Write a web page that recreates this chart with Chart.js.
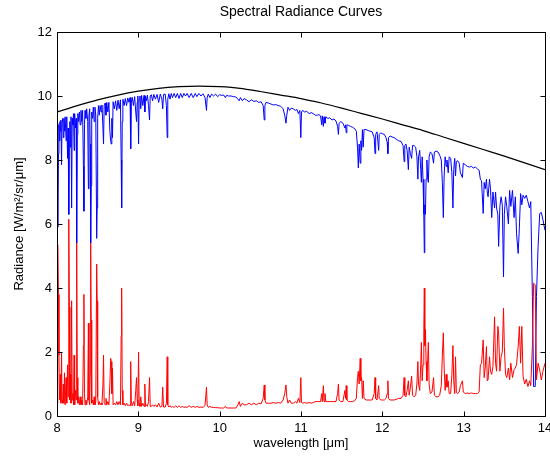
<!DOCTYPE html>
<html>
<head>
<meta charset="utf-8">
<title>Spectral Radiance Curves</title>
<script src="https://cdn.jsdelivr.net/npm/chart.js@4/dist/chart.umd.min.js"></script>
<style>
    html, body { margin: 0; padding: 0; background: #ffffff; }
    #wrap { width: 550px; height: 459px; }
</style>
</head>
<body>
<div id="wrap"><canvas id="myChart" width="550" height="459"></canvas></div>
<script>
// axis ticks
var xTicks = [8, 9, 10, 11, 12, 13, 14];
var yTicks = [0, 2, 4, 6, 8, 10, 12];

// black curve (blackbody)
var blackWl = [8.00, 8.25, 8.50, 8.75, 9.00, 9.25, 9.50, 9.75, 10.00, 10.25, 10.50, 10.75, 11.00,
    11.25, 11.50, 11.75, 12.00, 12.25, 12.50, 12.75, 13.00, 13.25, 13.50, 13.75, 14.00];
var blackVals = [9.50, 9.70, 9.88, 10.03, 10.15, 10.24, 10.29, 10.31, 10.29, 10.24, 10.14, 10.03, 9.92,
    9.78, 9.62, 9.45, 9.28, 9.10, 8.92, 8.72, 8.52, 8.32, 8.12, 7.91, 7.70];

// blue (upwelling) and red (atmosphere) share the wavelength grid, one block per micron
var wl8 = [
    8.000, 8.006, 8.012, 8.018, 8.024, 8.030, 8.036, 8.042, 8.048, 8.056,
    8.062, 8.070, 8.078, 8.085, 8.092, 8.100, 8.112, 8.120, 8.130, 8.137,
    8.145, 8.152, 8.158, 8.166, 8.172, 8.180, 8.187, 8.195, 8.203, 8.210,
    8.217, 8.228, 8.236, 8.242, 8.249, 8.256, 8.265, 8.275, 8.285, 8.295,
    8.305, 8.315, 8.325, 8.331, 8.338, 8.345, 8.355, 8.365, 8.378, 8.386,
    8.393, 8.402, 8.408, 8.414, 8.420, 8.427, 8.437, 8.447, 8.457, 8.467,
    8.477, 8.488, 8.494, 8.500, 8.510, 8.520, 8.530, 8.542, 8.552, 8.565,
    8.572, 8.580, 8.592, 8.602, 8.612, 8.625, 8.638, 8.650, 8.660, 8.667,
    8.674, 8.682, 8.690, 8.705, 8.720, 8.735, 8.750, 8.765, 8.780, 8.789,
    8.795, 8.802, 8.810, 8.825, 8.840, 8.855, 8.870, 8.885, 8.898, 8.906,
    8.914, 8.925, 8.940, 8.955, 8.968, 8.978, 8.986, 8.994];
var blue8 = [
    9.15, 8.90, 5.90, 8.20, 9.10, 8.60, 9.20, 8.90, 9.25, 7.85,
    9.20, 9.30, 8.70, 9.30, 8.90, 9.35, 8.60, 9.35, 8.05, 9.00,
    6.30, 8.60, 9.20, 8.40, 9.35, 6.50, 9.30, 9.10, 9.45, 8.30,
    9.45, 9.00, 9.30, 5.40, 8.80, 9.45, 9.20, 9.50, 9.10, 9.55,
    9.20, 9.55, 7.80, 6.40, 9.10, 9.55, 9.30, 9.60, 9.20, 7.10,
    9.40, 9.60, 8.50, 5.40, 7.20, 9.50, 9.30, 9.65, 9.20, 9.65,
    9.40, 5.55, 6.50, 9.30, 9.70, 9.40, 9.70, 9.50, 9.72, 9.00,
    8.50, 9.70, 9.78, 9.40, 9.80, 9.50, 9.80, 8.90, 8.60, 8.50,
    9.30, 8.70, 9.82, 9.60, 9.85, 9.55, 9.87, 9.60, 9.88, 8.00,
    6.50, 9.20, 9.90, 9.70, 9.92, 9.70, 9.94, 9.80, 9.95, 8.35,
    9.80, 9.96, 9.70, 9.98, 9.50, 9.20, 9.80, 10.00];
var red8 = [
    0.40, 1.00, 5.35, 3.80, 1.90, 0.80, 0.50, 1.30, 0.40, 2.00,
    0.50, 0.40, 1.00, 0.40, 1.35, 0.35, 1.20, 0.40, 1.60, 0.60,
    6.15, 3.40, 0.50, 1.30, 0.40, 3.60, 0.50, 0.70, 0.35, 1.90,
    0.35, 0.80, 0.50, 5.40, 1.20, 0.40, 0.60, 0.35, 0.60, 0.35,
    0.50, 0.35, 2.20, 3.80, 0.70, 0.35, 0.50, 0.35, 0.60, 2.90,
    0.50, 0.35, 1.30, 5.40, 3.00, 0.40, 0.50, 0.35, 0.60, 0.35,
    0.45, 4.75, 3.60, 0.60, 0.35, 0.45, 0.35, 0.40, 0.35, 1.00,
    1.90, 0.40, 0.35, 0.55, 0.35, 0.45, 0.35, 1.00, 1.80, 1.70,
    0.70, 1.50, 0.35, 0.40, 0.35, 0.45, 0.35, 0.45, 0.35, 2.50,
    4.00, 0.80, 0.35, 0.40, 0.32, 0.40, 0.32, 0.35, 0.32, 1.70,
    0.40, 0.32, 0.45, 0.32, 0.80, 1.20, 0.50, 0.32];

var wl9 = [
    9.003, 9.010, 9.020, 9.030, 9.040, 9.055, 9.070, 9.080, 9.088, 9.100,
    9.112, 9.125, 9.138, 9.146, 9.160, 9.175, 9.190, 9.210, 9.230, 9.250,
    9.270, 9.290, 9.300, 9.310, 9.330, 9.345, 9.355, 9.362, 9.375, 9.390,
    9.405, 9.420, 9.440, 9.460, 9.480, 9.500, 9.520, 9.540, 9.560, 9.580,
    9.600, 9.625, 9.650, 9.675, 9.700, 9.720, 9.745, 9.770, 9.795, 9.820,
    9.838, 9.846, 9.860, 9.880, 9.900, 9.925, 9.950, 9.975];
var blue9 = [
    8.50, 9.90, 10.00, 9.60, 10.02, 9.70, 10.02, 9.50, 10.00, 9.85,
    10.03, 9.70, 9.25, 10.00, 10.04, 9.85, 10.05, 9.90, 10.05, 9.80,
    10.06, 9.90, 9.60, 10.05, 10.06, 9.70, 8.70, 9.90, 10.07, 9.90,
    10.08, 9.95, 10.08, 9.95, 10.08, 9.92, 10.08, 9.95, 10.08, 10.00,
    10.08, 9.95, 10.08, 9.95, 10.08, 9.98, 10.08, 10.00, 10.07, 9.95,
    9.55, 9.95, 10.06, 9.95, 10.06, 10.00, 10.06, 9.98];
var red9 = [
    2.00, 0.40, 0.30, 0.60, 0.30, 0.40, 0.30, 1.00, 0.30, 0.35,
    0.30, 0.45, 1.20, 0.30, 0.30, 0.35, 0.30, 0.35, 0.28, 0.40,
    0.28, 0.30, 0.90, 0.28, 0.28, 0.40, 1.85, 0.35, 0.28, 0.32,
    0.27, 0.30, 0.27, 0.32, 0.27, 0.32, 0.27, 0.30, 0.27, 0.28,
    0.27, 0.32, 0.27, 0.30, 0.27, 0.30, 0.27, 0.28, 0.27, 0.33,
    0.90, 0.35, 0.27, 0.30, 0.27, 0.27, 0.26, 0.26];

var wl10 = [
    10.000, 10.025, 10.050, 10.070, 10.085, 10.110, 10.140, 10.170, 10.200, 10.225,
    10.240, 10.255, 10.280, 10.300, 10.330, 10.360, 10.390, 10.420, 10.450, 10.480,
    10.510, 10.535, 10.548, 10.556, 10.570, 10.600, 10.630, 10.660, 10.690, 10.720,
    10.750, 10.780, 10.800, 10.815, 10.825, 10.840, 10.860, 10.880, 10.905, 10.930,
    10.950, 10.968, 10.986];
var blue10 = [
    10.04, 10.02, 10.03, 9.95, 10.02, 10.00, 10.00, 9.98, 9.97, 9.90,
    9.85, 9.95, 9.85, 9.92, 9.88, 9.82, 9.88, 9.83, 9.85, 9.80,
    9.82, 9.70, 9.25, 9.70, 9.80, 9.78, 9.75, 9.72, 9.73, 9.70,
    9.68, 9.60, 9.40, 9.15, 9.40, 9.65, 9.55, 9.62, 9.60, 9.55,
    9.58, 9.45, 9.55];
var red10 = [
    0.25, 0.25, 0.25, 0.30, 0.25, 0.25, 0.25, 0.25, 0.25, 0.35,
    0.45, 0.30, 0.40, 0.35, 0.35, 0.40, 0.35, 0.40, 0.35, 0.40,
    0.38, 0.55, 0.97, 0.50, 0.40, 0.40, 0.40, 0.42, 0.40, 0.42,
    0.40, 0.50, 0.70, 0.97, 0.60, 0.40, 0.50, 0.40, 0.40, 0.45,
    0.40, 0.55, 0.42];

var wl11 = [
    10.998, 11.006, 11.020, 11.045, 11.070, 11.100, 11.125, 11.150, 11.175, 11.200,
    11.220, 11.240, 11.255, 11.262, 11.275, 11.283, 11.295, 11.305, 11.330, 11.355,
    11.380, 11.405, 11.430, 11.450, 11.460, 11.468, 11.490, 11.515, 11.540, 11.548,
    11.556, 11.564, 11.585, 11.610, 11.635, 11.660, 11.680, 11.695, 11.705, 11.715,
    11.728, 11.736, 11.745, 11.755, 11.765, 11.775, 11.800, 11.825, 11.850, 11.875,
    11.900, 11.910, 11.918, 11.935, 11.955, 11.962, 11.980];
var blue11 = [
    8.70, 9.50, 9.55, 9.50, 9.52, 9.45, 9.48, 9.45, 9.40, 9.40,
    9.42, 9.38, 9.10, 9.38, 9.05, 9.35, 9.15, 9.35, 9.30, 9.32,
    9.25, 9.28, 9.22, 9.05, 8.80, 9.15, 9.20, 9.15, 9.00, 9.10,
    8.85, 9.10, 9.08, 9.05, 9.02, 8.98, 8.90, 8.40, 7.75, 8.50,
    7.90, 8.60, 8.30, 8.95, 8.40, 8.95, 8.95, 8.92, 8.90, 8.88,
    8.70, 8.20, 8.80, 8.88, 8.30, 8.80, 8.85];
var red11 = [
    1.20, 0.42, 0.40, 0.42, 0.40, 0.42, 0.40, 0.42, 0.45, 0.45,
    0.45, 0.45, 0.70, 0.45, 0.95, 0.45, 0.70, 0.45, 0.45, 0.45,
    0.45, 0.45, 0.45, 0.70, 1.00, 0.50, 0.45, 0.45, 0.80, 0.55,
    0.95, 0.50, 0.45, 0.45, 0.45, 0.48, 0.55, 1.20, 1.40, 1.00,
    1.80, 1.10, 1.20, 0.55, 1.10, 0.55, 0.50, 0.50, 0.50, 0.50,
    0.70, 1.20, 0.55, 0.50, 0.95, 0.55, 0.50];

var wl12 = [
    12.000, 12.025, 12.045, 12.060, 12.068, 12.076, 12.095, 12.120, 12.145, 12.170,
    12.200, 12.230, 12.255, 12.268, 12.276, 12.290, 12.305, 12.320, 12.330, 12.345,
    12.360, 12.372, 12.390, 12.410, 12.425, 12.437, 12.445, 12.460, 12.472, 12.480,
    12.490, 12.500, 12.510, 12.516, 12.522, 12.530, 12.538, 12.548, 12.558, 12.566,
    12.575, 12.590, 12.610, 12.630, 12.640, 12.660, 12.685, 12.705, 12.725, 12.738,
    12.750, 12.760, 12.772, 12.785, 12.795, 12.810, 12.822, 12.840, 12.855, 12.868,
    12.878, 12.890, 12.900, 12.910, 12.925, 12.945, 12.960, 12.985];
var blue12 = [
    8.82, 8.80, 8.70, 8.55, 8.20, 8.70, 8.75, 8.72, 8.70, 8.65,
    8.60, 8.58, 8.45, 7.95, 8.45, 8.50, 8.30, 7.70, 8.40, 8.20,
    8.05, 8.45, 8.45, 8.40, 8.10, 7.40, 8.10, 8.30, 7.70, 7.30,
    8.10, 7.40, 6.30, 5.10, 6.60, 6.30, 7.40, 8.00, 7.40, 7.30,
    8.10, 8.25, 8.20, 7.90, 8.25, 8.28, 8.25, 8.15, 8.00, 7.30,
    6.20, 7.50, 8.10, 7.80, 8.00, 7.60, 8.10, 8.05, 7.60, 6.50,
    7.70, 8.05, 7.50, 7.95, 7.98, 7.90, 7.60, 7.45];
var red12 = [
    0.50, 0.50, 0.55, 0.70, 1.10, 0.55, 0.50, 0.50, 0.50, 0.52,
    0.55, 0.55, 0.65, 1.20, 0.65, 0.60, 0.80, 1.10, 0.65, 0.90,
    1.25, 0.65, 0.60, 0.65, 1.00, 1.70, 1.00, 0.80, 1.60, 2.30,
    1.10, 1.60, 2.70, 4.00, 2.20, 2.70, 1.70, 1.10, 1.80, 2.30,
    1.00, 0.70, 0.75, 1.20, 0.65, 0.60, 0.60, 0.65, 0.95, 1.90,
    2.60, 1.50, 0.80, 1.30, 0.90, 1.10, 0.70, 0.70, 1.30, 2.20,
    1.10, 0.70, 1.85, 0.75, 0.70, 0.75, 0.95, 1.10];

var wl13 = [
    12.995, 13.020, 13.045, 13.070, 13.095, 13.120, 13.145, 13.170, 13.190, 13.205,
    13.220, 13.240, 13.252, 13.265, 13.280, 13.290, 13.300, 13.318, 13.330, 13.345,
    13.360, 13.380, 13.392, 13.405, 13.420, 13.430, 13.445, 13.460, 13.475, 13.490,
    13.500, 13.515, 13.530, 13.550, 13.565, 13.580, 13.600, 13.620, 13.635, 13.650,
    13.670, 13.685, 13.700, 13.715, 13.730, 13.750, 13.770, 13.790, 13.810, 13.825,
    13.845, 13.860, 13.880, 13.895, 13.915, 13.935, 13.955, 13.975, 14.000];
var blue13 = [
    7.90, 7.85, 7.80, 7.78, 7.80, 7.75, 7.78, 7.72, 7.68, 7.40,
    7.35, 6.33, 7.30, 7.10, 7.40, 7.00, 6.85, 7.40, 7.10, 6.20,
    7.00, 6.50, 7.00, 6.50, 6.30, 5.30, 6.55, 6.85, 6.60, 4.35,
    6.30, 6.85, 6.55, 6.00, 7.05, 6.55, 7.05, 6.20, 6.85, 5.70,
    5.08, 5.90, 6.95, 6.60, 6.90, 6.80, 6.90, 6.70, 6.50, 6.70,
    3.73, 0.92, 0.92, 3.73, 5.30, 6.33, 6.36, 6.13, 5.80];
var red13 = [
    0.75, 0.70, 0.72, 0.70, 0.72, 0.70, 0.70, 0.70, 0.75, 1.60,
    1.65, 2.38, 1.20, 1.50, 2.17, 1.10, 1.13, 1.85, 1.40, 1.30,
    1.55, 3.10, 1.65, 1.40, 2.80, 2.60, 1.40, 1.85, 2.00, 3.37,
    2.17, 1.30, 1.20, 1.50, 1.13, 1.65, 1.20, 1.45, 1.50, 1.60,
    2.17, 2.80, 1.65, 2.80, 1.25, 1.00, 1.15, 0.92, 1.10, 0.95,
    2.20, 4.15, 4.10, 1.13, 1.65, 1.44, 1.13, 1.40, 1.65];

var wavelength = [].concat(wl8, wl9, wl10, wl11, wl12, wl13);
var upwelling = [].concat(blue8, blue9, blue10, blue11, blue12, blue13);
var emission = [].concat(red8, red9, red10, red11, red12, red13);

function toPoints(xs, ys) {
    var pts = [];
    for (var i = 0; i < xs.length; i++) {
        if (ys[i] === undefined) { console.log("missing value at " + xs[i]); continue; }
        pts.push({ x: xs[i], y: ys[i] });
    }
    return pts;
}

var fontName = "'Liberation Sans', Arial, Helvetica, sans-serif";

// matlab style box with inward ticks
var boxPlugin = {
    id: 'box',
    afterDraw: function (chart) {
        var ctx = chart.ctx;
        var a = chart.chartArea;
        var xs = chart.scales.x;
        var ys = chart.scales.y;
        var l = Math.round(a.left) + 0.5, r = Math.round(a.right) + 0.5;
        var t = Math.round(a.top) + 0.5, b = Math.round(a.bottom) + 0.5;
        ctx.save();
        ctx.strokeStyle = '#000000';
        ctx.lineWidth = 1;
        ctx.beginPath();
        ctx.moveTo(l, t); ctx.lineTo(r, t); ctx.lineTo(r, b); ctx.lineTo(l, b); ctx.closePath();
        xTicks.forEach(function (v) {
            var px = Math.round(xs.getPixelForValue(v)) + 0.5;
            ctx.moveTo(px, t); ctx.lineTo(px, t + 5);
            ctx.moveTo(px, b); ctx.lineTo(px, b - 5);
        });
        yTicks.forEach(function (v) {
            var py = Math.round(ys.getPixelForValue(v)) + 0.5;
            ctx.moveTo(l, py); ctx.lineTo(l + 5, py);
            ctx.moveTo(r, py); ctx.lineTo(r - 5, py);
        });
        ctx.stroke();
        ctx.restore();
    }
};

function setChart() {
    var ctx = document.getElementById('myChart');
    new Chart(ctx, {
        type: 'line',
        data: {
            datasets: [{
                label: 'blackbody',
                data: toPoints(blackWl, blackVals),
                borderColor: '#000000',
                borderWidth: 1.2,
                cubicInterpolationMode: 'monotone',
                pointRadius: 0,
                order: 3
            }, {
                label: 'upwelling',
                data: toPoints(wavelength, upwelling),
                borderColor: '#0000ff',
                borderWidth: 1,
                pointRadius: 0,
                order: 2
            }, {
                label: 'emission',
                data: toPoints(wavelength, emission),
                borderColor: '#ff0000',
                borderWidth: 1,
                pointRadius: 0,
                order: 1
            }]
        },
        options: {
            responsive: false,
            devicePixelRatio: 1,
            animation: false,
            events: [],
            layout: { padding: { left: 0, right: 5, top: 0, bottom: 0 } },
            plugins: {
                legend: { display: false },
                tooltip: { enabled: false },
                title: {
                    display: true,
                    fullSize: false,
                    text: 'Spectral Radiance Curves',
                    color: '#000000',
                    font: { family: fontName, size: 14, weight: 'normal' },
                    padding: { top: 4, bottom: 11.2 }
                }
            },
            scales: {
                x: {
                    type: 'linear',
                    min: 8,
                    max: 14,
                    afterBuildTicks: function (scale) {
                        scale.ticks = xTicks.map(function (v) { return { value: v }; });
                    },
                    afterFit: function (scale) {
                        scale.height = 43;
                        scale.paddingLeft = 0;
                        scale.paddingRight = 0;
                    },
                    grid: { display: true, drawOnChartArea: false, drawTicks: false },
                    border: { display: false },
                    ticks: {
                        color: '#000000',
                        padding: 5,
                        maxRotation: 0,
                        autoSkip: false,
                        font: { family: fontName, size: 13 }
                    },
                    title: {
                        display: true,
                        text: 'wavelength [\u03bcm]',
                        color: '#000000',
                        font: { family: fontName, size: 13 },
                        padding: { top: 0, bottom: 8 }
                    }
                },
                y: {
                    type: 'linear',
                    min: 0,
                    max: 12,
                    afterBuildTicks: function (scale) {
                        scale.ticks = yTicks.map(function (v) { return { value: v }; });
                    },
                    afterFit: function (scale) {
                        scale.width = 57;
                        scale.paddingTop = 0;
                        scale.paddingBottom = 0;
                    },
                    grid: { display: true, drawOnChartArea: false, drawTicks: false },
                    border: { display: false },
                    ticks: {
                        color: '#000000',
                        padding: 5,
                        autoSkip: false,
                        font: { family: fontName, size: 13 }
                    },
                    title: {
                        display: true,
                        text: 'Radiance [W/m\u00b2/sr/\u03bcm]',
                        color: '#000000',
                        font: { family: fontName, size: 13 },
                        padding: { top: 12, bottom: 0 }
                    }
                }
            }
        },
        plugins: [boxPlugin]
    });
}

setChart();
</script>
</body>
</html>
